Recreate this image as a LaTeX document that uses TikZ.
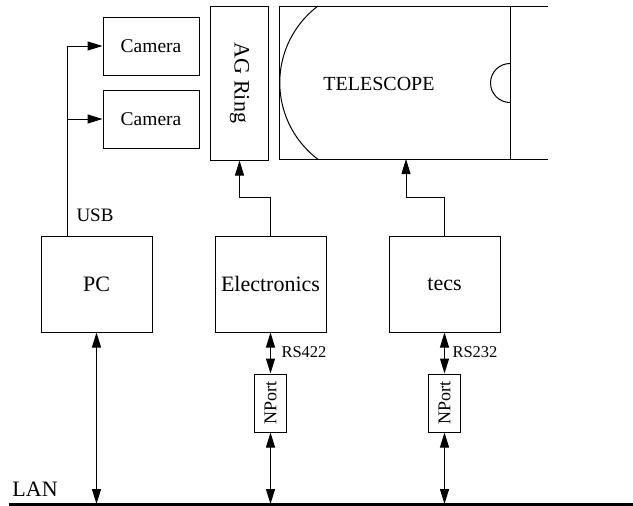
\documentclass[tikz,border=0pt]{standalone}
\usepackage{fontspec}
\setmainfont{Liberation Serif}
\usetikzlibrary{arrows.meta, positioning, calc}

\begin{document}
\begin{tikzpicture}[x=1pt, y=-1pt, line width=1pt,
    tip/.style={-{Triangle[length=15pt, width=9pt]}},
    bitip/.style={{Triangle[length=15pt, width=9pt]}-{Triangle[length=15pt, width=9pt]}},
    unitbox/.style={draw, minimum width=111pt, minimum height=96pt, font=\fontsize{22}{24}\selectfont},
    cambox/.style={draw, minimum width=96pt, minimum height=58pt, font=\fontsize{19.5}{22}\selectfont},
    portbox/.style={draw, rotate=90, minimum width=58pt, minimum height=32pt, inner sep=0pt, font=\fontsize{18}{20}\selectfont},
    lbl/.style={anchor=west, inner sep=0pt, font=\fontsize{16.5}{18}\selectfont}]
    \useasboundingbox (0,0) rectangle (633,506);

    % Computer and controllers
    \node[unitbox] (pc) at (96.5,284) {PC};
    \node[unitbox] (elec) at (270.5,284) {Electronics};
    \node[unitbox] (tecs) at (444.5,284) {tecs};

    % Cameras
    \node[cambox] (cam1) at (151,46) {Camera};
    \node[cambox] (cam2) at (151,119) {Camera};

    % AG Ring
    \node[draw, rotate=-90, minimum width=154pt, minimum height=58pt, font=\fontsize{22}{24}\selectfont] (agring) at (239.5,83) {AG Ring};

    % Telescope
    \draw (548,6) -- (279,6) -- (279,159) -- (548,159);
    \draw (510,6) -- (510,159);
    \draw (318,6) arc[start angle=233, end angle=127, radius=96];
    \draw (510,63.5) arc[start angle=270, end angle=90, radius=19.5];
    \node[font=\fontsize{20}{22}\selectfont] (tel) at (379,84) {TELESCOPE};
    \coordinate (telbot) at (406,159);

    % NPort converters
    \node[portbox] (np1) at (270.5,403) {NPort};
    \node[portbox] (np2) at (444.5,403) {NPort};

    % LAN
    \coordinate (lanL) at (9,504);
    \coordinate (lanR) at (633,504);
    \draw[line width=3pt] (lanL) -- (lanR);
    \node[lbl, font=\fontsize{22}{24}\selectfont] (lan) at (12,489.5) {LAN};

    % USB to cameras
    \coordinate (usb) at ($(pc.north west)+(27,0)$);
    \draw[tip] (usb) |- (cam1);
    \draw[tip] (usb |- cam2) -- (cam2);
    \node[lbl, font=\fontsize{19}{21}\selectfont] (usblbl) at (76,215) {USB};

    % Control lines
    \draw[tip] (elec.north) -- ++(0,-38) -| (agring.east);
    \draw[tip] (tecs.north) -- ++(0,-38) -| (telbot);

    % Serial and network links
    \draw[bitip] (elec) -- (np1);
    \draw[bitip] (tecs) -- (np2);
    \node[lbl] (rs1) at (281,352.5) {RS422};
    \node[lbl] (rs2) at (452,352.5) {RS232};
    \draw[bitip] (pc) -- (pc |- lanL);
    \draw[bitip] (np1) -- (np1 |- lanL);
    \draw[bitip] (np2) -- (np2 |- lanL);
\end{tikzpicture}
\end{document}
